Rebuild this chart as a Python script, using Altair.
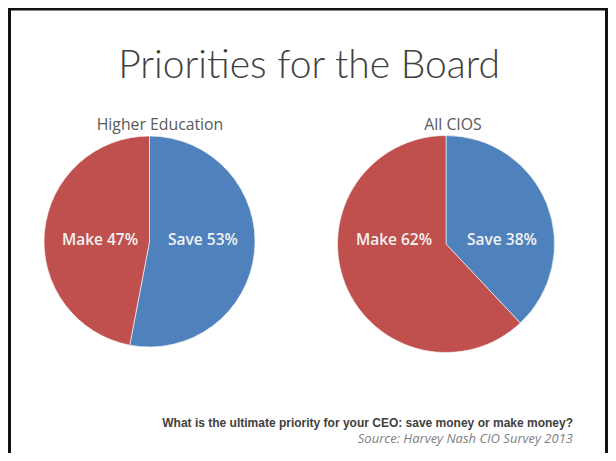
import altair as alt
import pandas as pd

# ---- data ----
groups = ["Higher Education", "Higher Education", "All CIOS", "All CIOS"]
categories = ["Save", "Make", "Save", "Make"]
values = [53, 47, 38, 62]
order = [0, 1, 0, 1]

title_text = "Priorities for the Board"
question_text = "What is the ultimate priority for your CEO: save money or make money?"
source_text = "Source: Harvey Nash CIO Survey 2013"

df = pd.DataFrame({"group": groups, "cat": categories, "value": values, "ord": order})
df["label"] = df["cat"] + " " + df["value"].astype(str) + "%"

BLUE = "#4F81BD"
RED = "#C0504D"

color = alt.Color("cat:N", scale=alt.Scale(domain=["Save", "Make"], range=[BLUE, RED]), legend=None)

base = alt.Chart(df)

# pie layout (pixel layout of each panel)
pies = {
    "Higher Education": dict(cx=141.5, cy=233.5, r=105.5, tx=152,
                             lab={"Make": 92, "Save": 195}, ly=232),
    "All CIOS": dict(cx=438, cy=236, r=108.5, tx=445,
                     lab={"Make": 386, "Save": 494}, ly=232),
}

layers = []

# frame
frame = alt.Chart(pd.DataFrame({"a": [0]})).mark_rect(
    filled=False, stroke="#111111", strokeWidth=3
).encode(x=alt.value(1.5), x2=alt.value(598.5), y=alt.value(1), y2=alt.value(700))
layers.append(frame)

for g, p in pies.items():
    arc = base.transform_filter(alt.datum.group == g).mark_arc(
        radius=p["r"], stroke="#ffffff", strokeWidth=0.6
    ).encode(
        theta=alt.Theta("value:Q", stack=True),
        color=color,
        order=alt.Order("ord:Q"),
        x=alt.value(p["cx"]),
        y=alt.value(p["cy"]),
    )
    layers.append(arc)
    for c, lx in p["lab"].items():
        t = base.transform_filter((alt.datum.group == g) & (alt.datum.cat == c)).mark_text(
            font="Open Sans", fontSize=15.5, fontWeight=600, color="#F2F2F2",
            align="center", baseline="middle"
        ).encode(text="label:N", x=alt.value(lx), y=alt.value(p["ly"]))
        layers.append(t)
    sub = base.transform_filter((alt.datum.group == g) & (alt.datum.ord == 0)).mark_text(
        font="Open Sans", fontSize=15.8, color="#595959", align="center", baseline="alphabetic"
    ).encode(text="group:N", x=alt.value(p["tx"]), y=alt.value(122))
    layers.append(sub)

txt = pd.DataFrame({"title": [title_text], "q": [question_text], "s": [source_text]})
tb = alt.Chart(txt)
layers.append(tb.mark_text(font="Lato", fontSize=39, fontWeight=300, color="#404040",
                           align="center", baseline="alphabetic").encode(
    text="title:N", x=alt.value(301), y=alt.value(70)))
layers.append(tb.mark_text(font="Liberation Sans", fontSize=12, fontWeight="bold", color="#404040",
                           align="right", baseline="middle").encode(
    text="q:N", x=alt.value(565), y=alt.value(415)))
layers.append(tb.mark_text(font="Open Sans", fontSize=13, fontStyle="italic", color="#7F7F7F",
                           align="right", baseline="middle").encode(
    text="s:N", x=alt.value(565), y=alt.value(431)))

chart = alt.layer(*layers).properties(
    width=600, height=445, autosize=alt.AutoSizeParams(type="none"), padding=0,
    background="#FFFFFF"
).configure_view(stroke=None)

chart.save("out.html", embed_options={"renderer": "svg", "actions": False})
